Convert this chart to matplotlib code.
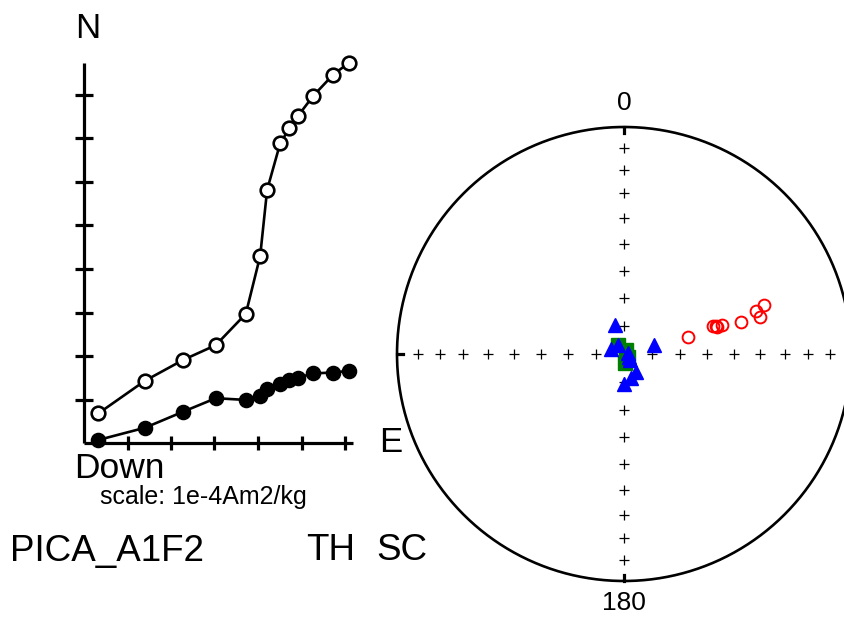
import numpy as np
import matplotlib
matplotlib.use("Agg")
import matplotlib.pyplot as plt

plt.rcParams['font.family'] = ['Liberation Sans', 'DejaVu Sans']

# ---------------- Zijderveld data (axis tick units) ----------------
zij_east = [0.33, 1.40, 2.28, 3.03, 3.72, 4.05, 4.21, 4.51, 4.72, 4.92, 5.27, 5.73, 6.09]
zij_vert = [0.68, 1.43, 1.91, 2.25, 2.97, 4.30, 5.82, 6.89, 7.23, 7.52, 7.98, 8.47, 8.74]   # open
zij_horz = [0.07, 0.35, 0.72, 1.03, 0.99, 1.08, 1.23, 1.35, 1.45, 1.50, 1.60, 1.62, 1.66]   # filled
x_ticks = [1, 2, 3, 4, 5, 6]
y_ticks = [1, 2, 3, 4, 5, 6, 7, 8]

# ---------------- Equal-area data (dec, inc) ----------------
red_dec = [75.6, 72.8, 73.8, 72.9, 73.3, 74.8, 71.8, 74.7, 70.6]
red_inc = [-66.1, -55.1, -55.0, -56.1, -53.0, -45.6, -38.7, -37.7, -34.8]
green_dec = [327.6, 124.0, 173.7, 26.6]
green_inc = [86.2, 88.3, 86.8, 88.4]
blue_dec = [342.8, 292.1, 326.3, 80.7, 121.0, 135.0, 73.4, 145.9, 163.6, 180.0]
blue_inc = [79.1, 84.8, 86.1, 88.4, 88.1, 87.0, 78.7, 82.4, 81.1, 79.3]
cross_incs = [10, 20, 30, 40, 50, 60, 70, 80]
cross_decs = [0, 90, 180, 270]

W, H = 844, 619
fig = plt.figure(figsize=(W / 100, H / 100), dpi=100)

def fig_box(l, t, r, b):
    return [l / W, (H - b) / H, (r - l) / W, (b - t) / H]

# ---------------- Zijderveld ----------------
ox, oy, s = 84, 443, 43.5
L, T, R, B = 40, 20, 400, 600
ax = fig.add_axes(fig_box(L, T, R, B))
ax.set_xlim((L - ox) / s, (R - ox) / s)
ax.set_ylim((oy - B) / s, (oy - T) / s)
ax.axis('off')

xmax = max(zij_east) * 1.015
ymax = max(zij_vert) * 1.0
ax.plot([0, xmax], [0, 0], color='black', lw=2.3, solid_capstyle='butt', zorder=1)
ax.plot([0, 0], [0, ymax], color='black', lw=2.3, solid_capstyle='butt', zorder=1)
for t in x_ticks:
    ax.plot([t, t], [-0.17, 0.17], color='black', lw=2.3, solid_capstyle='butt', zorder=1)
for t in y_ticks:
    ax.plot([-0.2, 0.2], [t, t], color='black', lw=2.3, solid_capstyle='butt', zorder=1)

ax.plot(zij_east, zij_vert, color='black', lw=1.9, zorder=2)
ax.plot(zij_east, zij_horz, color='black', lw=1.9, zorder=2)
ax.plot(zij_east, zij_vert, 'o', ms=9.8, mfc='white', mec='black', mew=1.9, zorder=3)
ax.plot(zij_east, zij_horz, 'o', ms=10.2, mfc='black', mec='black', mew=1.0, zorder=3)

def ftext(x, y, txt, size, ha='left', va='center'):
    fig.text(x / W, 1 - y / H, txt, fontsize=size, ha=ha, va=va)

ftext(88, 28, 'N', 25, ha='center')
ftext(379, 442, 'E', 25)
ftext(74, 469, 'Down', 25.5)
ftext(100, 497, 'scale: 1e-4Am2/kg', 18)
ftext(10, 551, 'PICA_A1F2', 26.5)
ftext(306, 551, 'TH', 26.5)
ftext(376, 551, 'SC', 26.5)

# ---------------- Equal-area net ----------------
cx, cy, Rp = 624, 354, 227
span = 240
ax2 = fig.add_axes(fig_box(cx - span, cy - span, cx + span, cy + span))
ax2.set_xlim(-span / Rp, span / Rp)
ax2.set_ylim(-span / Rp, span / Rp)
ax2.axis('off')

def eqarea(dec, inc):
    dec = np.radians(np.asarray(dec, float))
    inc = np.abs(np.asarray(inc, float))
    r = np.sqrt(2) * np.sin(np.radians(90 - inc) / 2)
    return r * np.sin(dec), r * np.cos(dec)

th = np.linspace(0, 2 * np.pi, 721)
ax2.plot(np.cos(th), np.sin(th), color='black', lw=1.9, zorder=1)
for d in cross_decs:
    xs, ys = eqarea([d] * len(cross_incs), cross_incs)
    ax2.plot(xs, ys, '+', color='black', ms=6.5, mew=0.9, zorder=1)
    x0, y0 = eqarea([d], [0])
    x1, y1 = eqarea([d], [2.9])
    ax2.plot([x0[0], x1[0]], [y0[0], y1[0]], color='black', lw=2.3, zorder=1)

gx, gy = eqarea(green_dec, green_inc)
ax2.plot(gx, gy, 's', color='green', ms=9.5, zorder=2)
bx, by = eqarea(blue_dec, blue_inc)
ax2.plot(bx, by, '^', color='blue', ms=10.5, zorder=3)
rx, ry = eqarea(red_dec, red_inc)
ax2.plot(rx, ry, 'o', mfc='none', mec='red', ms=8.5, mew=1.4, zorder=3)

ftext(cx, 103, '0', 19, ha='center')
ftext(cx, 603, '180', 19, ha='center')

fig.savefig('out.png', dpi=100)
